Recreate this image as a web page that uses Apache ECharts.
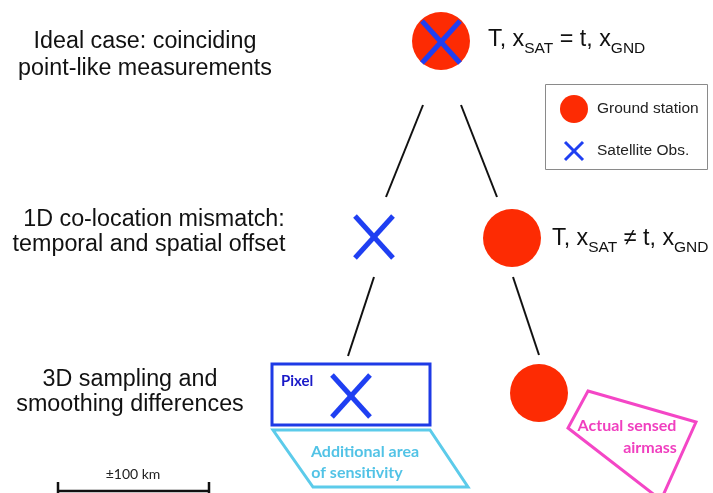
<!DOCTYPE html>
<html>
<head>
<meta charset="utf-8">
<script src="https://cdn.jsdelivr.net/npm/echarts@6/dist/echarts.min.js"></script>
<style>
html, body { margin: 0; padding: 0; background: #fff; }
#main { width: 713px; height: 493px; }
</style>
</head>
<body>
<div id="main"></div>
<script>
// diagram space: x 0..713, y 0..493 (y grows downwards)
var stations = [[441, 41, 29], [512, 238, 29], [539, 393, 29]];   // x, y, radius
var satObs = [[441, 42, 19, 21], [374, 237, 19, 21], [351, 396, 19, 21]]; // x, y, half w, half h
var treeEdges = [[423, 105, 386, 197], [461, 105, 497, 197], [374, 277, 348, 356], [513, 277, 539, 355]];
var pixelBox = [[272, 364], [430, 364], [430, 425], [272, 425]];
var sensArea = [[273, 430], [430, 430], [468, 487], [313, 487]];
var airmass = [[588, 391], [696, 422], [661, 500], [568, 428]];
var scaleBar = [[58, 491], [209, 491]];
var legendBox = [[545, 84], [707, 169]];
var legendStation = [574, 109, 14];
var legendSat = [574, 151, 9, 9];

var rowLabels = [
    [145, 42, 'Ideal case: coinciding'],
    [145, 69, 'point-like measurements'],
    [154, 220, '1D co-location mismatch:'],
    [149, 245, 'temporal and spatial offset'],
    [130, 380, '3D sampling and'],
    [130, 405, 'smoothing differences']
];
var caseLabels = [
    [488, 40, '{n|T, x}{s|SAT}{n| = t, x}{s|GND}'],
    [552, 239, '{n|T, x}{s|SAT}{n| \u2260 t, x}{s|GND}']
];
var legendLabels = [[597, 109, 'Ground station'], [597, 151, 'Satellite Obs.']];
var boxLabels = [
    [281, 381, 'Pixel', '#1a1ac8', 'left'],
    [365, 452, 'Additional area', '#52c3e6', 'center'],
    [357, 473, 'of sensitivity', '#52c3e6', 'center'],
    [627, 426, 'Actual sensed', '#f03fbf', 'center'],
    [650, 448, 'airmass', '#f03fbf', 'center']
];
var scaleLabel = [133, 474, '\u00b1100 km'];

var RED = '#fd2b03';
var BLUE = '#1f3ff2';
var SANS = '"Liberation Sans", Arial, sans-serif';

var chart = echarts.init(document.getElementById('main'));

function poly(api, pts, color, w) {
    return {
        type: 'polygon',
        shape: { points: pts.map(function (p) { return api.coord(p); }) },
        style: { fill: 'none', stroke: color, lineWidth: w, lineJoin: 'miter' }
    };
}

function cross(api, c, lw) {
    var a = api.coord([c[0] - c[2], c[1] - c[3]]);
    var b = api.coord([c[0] + c[2], c[1] + c[3]]);
    var d = api.coord([c[0] + c[2], c[1] - c[3]]);
    var e = api.coord([c[0] - c[2], c[1] + c[3]]);
    return {
        type: 'group',
        children: [
            { type: 'line', shape: { x1: a[0], y1: a[1], x2: b[0], y2: b[1] }, style: { stroke: BLUE, lineWidth: lw } },
            { type: 'line', shape: { x1: d[0], y1: d[1], x2: e[0], y2: e[1] }, style: { stroke: BLUE, lineWidth: lw } }
        ]
    };
}

function disc(api, c) {
    var p = api.coord([c[0], c[1]]);
    var q = api.coord([c[0] + c[2], c[1]]);
    return { type: 'circle', shape: { cx: p[0], cy: p[1], r: q[0] - p[0] }, style: { fill: RED } };
}

var option = {
    animation: false,
    backgroundColor: '#fff',
    grid: { left: 0, right: 0, top: 0, bottom: 0 },
    xAxis: { type: 'value', min: 0, max: 713, show: false },
    yAxis: { type: 'value', min: 0, max: 493, inverse: true, show: false },
    series: [
        {
            // tree edges
            type: 'custom',
            clip: false,
            data: treeEdges,
            encode: { x: [0, 2], y: [1, 3] },
            renderItem: function (params, api) {
                var a = api.coord([api.value(0), api.value(1)]);
                var b = api.coord([api.value(2), api.value(3)]);
                return { type: 'line', shape: { x1: a[0], y1: a[1], x2: b[0], y2: b[1] }, style: { stroke: '#111', lineWidth: 2 } };
            }
        },
        {
            // ground stations
            type: 'custom',
            clip: false,
            data: stations,
            encode: { x: 0, y: 1 },
            renderItem: function (params, api) {
                return disc(api, stations[params.dataIndex]);
            }
        },
        {
            // satellite obs crosses
            type: 'custom',
            clip: false,
            data: satObs,
            encode: { x: 0, y: 1 },
            renderItem: function (params, api) {
                return cross(api, satObs[params.dataIndex], 5);
            }
        },
        {
            // footprint shapes
            type: 'custom',
            clip: false,
            data: [pixelBox[0], sensArea[0], airmass[0]],
            encode: { x: 0, y: 1 },
            renderItem: function (params, api) {
                if (params.dataIndex === 0) return poly(api, pixelBox, '#1e3ae6', 3);
                if (params.dataIndex === 1) return poly(api, sensArea, '#5ccbea', 3);
                return poly(api, airmass, '#f446c6', 3);
            }
        },
        {
            // legend
            type: 'custom',
            clip: false,
            data: [legendBox[0]],
            encode: { x: 0, y: 1 },
            renderItem: function (params, api) {
                var a = api.coord(legendBox[0]);
                var b = api.coord(legendBox[1]);
                var kids = [
                    { type: 'rect', shape: { x: a[0] + 0.5, y: a[1] + 0.5, width: b[0] - a[0], height: b[1] - a[1] }, style: { fill: '#fff', stroke: '#8a8a8a', lineWidth: 1 } },
                    disc(api, legendStation),
                    cross(api, legendSat, 3)
                ];
                legendLabels.forEach(function (l) {
                    var p = api.coord([l[0], l[1]]);
                    kids.push({ type: 'text', x: p[0], y: p[1], style: { text: l[2], fontSize: 15.5, fontFamily: SANS, fill: '#222', align: 'left', verticalAlign: 'middle' } });
                });
                return { type: 'group', children: kids };
            }
        },
        {
            // scale bar
            type: 'custom',
            clip: false,
            data: scaleBar,
            encode: { x: 0, y: 1 },
            renderItem: function (params, api) {
                if (params.dataIndex > 0) return;
                var a = api.coord(scaleBar[0]);
                var b = api.coord(scaleBar[1]);
                var p = api.coord([scaleLabel[0], scaleLabel[1]]);
                var st = { stroke: '#111', lineWidth: 2.5 };
                return {
                    type: 'group',
                    children: [
                        { type: 'line', shape: { x1: a[0], y1: a[1], x2: b[0], y2: b[1] }, style: st },
                        { type: 'line', shape: { x1: a[0], y1: a[1] - 9, x2: a[0], y2: a[1] + 9 }, style: st },
                        { type: 'line', shape: { x1: b[0], y1: b[1] - 9, x2: b[0], y2: b[1] + 9 }, style: st },
                        { type: 'text', x: p[0], y: p[1], style: { text: scaleLabel[2], fontSize: 14, fontFamily: 'Lato, "Open Sans", sans-serif', fill: '#222', align: 'center', verticalAlign: 'middle' } }
                    ]
                };
            }
        },
        {
            // row descriptions
            type: 'custom',
            clip: false,
            data: rowLabels.map(function (r) { return [r[0], r[1]]; }),
            encode: { x: 0, y: 1 },
            renderItem: function (params, api) {
                var r = rowLabels[params.dataIndex];
                var p = api.coord([r[0], r[1]]);
                return { type: 'text', x: p[0], y: p[1], style: { text: r[2], fontSize: 23.3, fontFamily: SANS, fill: '#111', align: 'center', verticalAlign: 'middle' } };
            }
        },
        {
            // T, x relations
            type: 'custom',
            clip: false,
            data: caseLabels.map(function (r) { return [r[0], r[1]]; }),
            encode: { x: 0, y: 1 },
            renderItem: function (params, api) {
                var r = caseLabels[params.dataIndex];
                var p = api.coord([r[0], r[1]]);
                return {
                    type: 'text', x: p[0], y: p[1],
                    style: {
                        text: r[2], align: 'left', verticalAlign: 'middle', fill: '#111',
                        rich: {
                            n: { fontSize: 23.3, fontFamily: SANS, fill: '#111' },
                            s: { fontSize: 15.5, fontFamily: SANS, fill: '#111', padding: [17, 0, 0, 0] }
                        }
                    }
                };
            }
        },
        {
            // labels in the footprint shapes
            type: 'custom',
            clip: false,
            data: boxLabels.map(function (r) { return [r[0], r[1]]; }),
            encode: { x: 0, y: 1 },
            renderItem: function (params, api) {
                var r = boxLabels[params.dataIndex];
                var p = api.coord([r[0], r[1]]);
                var size = params.dataIndex === 0 ? 15 : 16;
                return { type: 'text', x: p[0], y: p[1], style: { text: r[2], fontSize: size, fontWeight: 'bold', fontFamily: 'Lato, "Open Sans", sans-serif', fill: r[3], align: r[4], verticalAlign: 'middle' } };
            }
        }
    ]
};

chart.setOption(option);
window.addEventListener('resize', function () { chart.resize(); });
</script>
</body>
</html>
